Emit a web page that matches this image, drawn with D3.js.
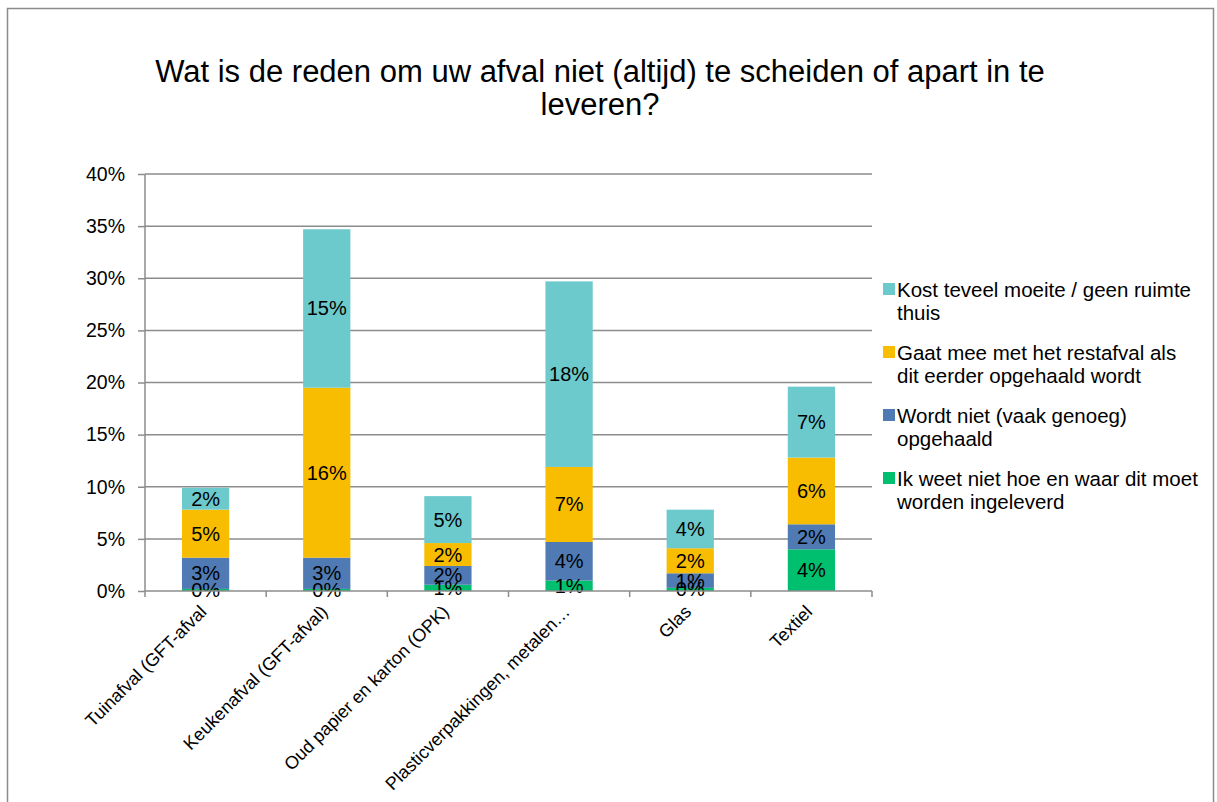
<!DOCTYPE html>
<html><head><meta charset="utf-8">
<script src="https://cdn.jsdelivr.net/npm/d3@7"></script>
<style>body{margin:0;background:#fff}svg{display:block;font-family:"Liberation Sans",Arial,sans-serif}</style>
</head><body><svg id="c" width="1217" height="802"></svg>
<script>
const categories = ["Tuinafval (GFT-afval","Keukenafval (GFT-afval)","Oud papier en karton (OPK)","Plasticverpakkingen, metalen…","Glas","Textiel"];
const seriesNames = ["Ik weet niet hoe en waar dit moet worden ingeleverd","Wordt niet (vaak genoeg) opgehaald","Gaat mee met het restafval als dit eerder opgehaald wordt","Kost teveel moeite / geen ruimte thuis"];
const ikWeetNiet = [0.002,0.002,0.006,0.010,0.003,0.040];
const wordtNiet  = [0.030,0.030,0.018,0.037,0.014,0.024];
const gaatMee    = [0.046,0.163,0.022,0.072,0.024,0.064];
const kostMoeite = [0.021,0.152,0.045,0.178,0.037,0.068];
const yTicks = [0,0.05,0.10,0.15,0.20,0.25,0.30,0.35,0.40];
const colors = ["#00bf6f","#4f7ab3","#f8bd00","#6cc9cc"];
const series = [ikWeetNiet,wordtNiet,gaatMee,kostMoeite];

const svg = d3.select("#c");
svg.append("rect").attr("x",7.5).attr("y",8.5).attr("width",1206).attr("height",820)
  .attr("fill","#fff").attr("stroke","#8c8c8c").attr("stroke-width",1.5);

svg.append("text").attr("x",600).attr("y",82).attr("text-anchor","middle").attr("font-size",31)
  .text("Wat is de reden om uw afval niet (altijd) te scheiden of apart in te");
svg.append("text").attr("x",600).attr("y",115).attr("text-anchor","middle").attr("font-size",31)
  .text("leveren?");

const L=145,R=872,T=174,B=591;
const x = d3.scaleBand().domain(categories).range([L,R]).paddingInner(0.61).paddingOuter(0.305);
const y = d3.scaleLinear().domain([0,0.40]).range([B,T]);

// gridlines
svg.append("g").selectAll("line").data(yTicks.slice(1)).join("line")
  .attr("x1",L).attr("x2",R).attr("y1",d=>y(d)).attr("y2",d=>y(d))
  .attr("stroke","#8c8c8c").attr("stroke-width",1.5);

// y axis
const ya = svg.append("g").attr("transform",`translate(${L},0)`)
  .call(d3.axisLeft(y).tickValues(yTicks).tickFormat(d3.format(".0%")).tickSize(7).tickPadding(13));
ya.selectAll("path,line").attr("stroke","#8c8c8c").attr("stroke-width",1.5);
ya.select("path").attr("d",`M0,${T}V${B}`);
ya.selectAll("text").attr("font-size",19.5).attr("fill","#000").attr("font-family","Liberation Sans, Arial, sans-serif");

// stacked bars
const stackData = categories.map((c,i)=>{const o={cat:c};series.forEach((s,j)=>o[j]=s[i]);return o;});
const stack = d3.stack().keys([0,1,2,3])(stackData);
const g = svg.append("g");
stack.forEach((layer,j)=>{
  g.selectAll(null).data(layer).join("rect")
    .attr("x",d=>x(d.data.cat)).attr("width",x.bandwidth())
    .attr("y",d=>y(d[1])).attr("height",d=>y(d[0])-y(d[1]))
    .attr("fill",colors[j]);
});
stack.forEach((layer,j)=>{
  g.selectAll(null).data(layer).join("text")
    .attr("x",d=>x(d.data.cat)+x.bandwidth()/2)
    .attr("y",d=>(y(d[0])+y(d[1]))/2+7)
    .attr("text-anchor","middle").attr("font-size",20).attr("fill","#000")
    .text(d=>d3.format(".0%")(d[1]-d[0]));
});

// x axis
const bounds = d3.range(categories.length+1).map(i=>L+i*(R-L)/categories.length);
svg.append("line").attr("x1",L).attr("x2",R).attr("y1",B).attr("y2",B).attr("stroke","#8c8c8c").attr("stroke-width",1.5);
svg.append("g").selectAll("line").data(bounds).join("line")
  .attr("x1",d=>d).attr("x2",d=>d).attr("y1",B).attr("y2",B+6).attr("stroke","#8c8c8c").attr("stroke-width",1.5);
svg.append("g").selectAll("text").data(categories).join("text")
  .attr("transform",d=>`translate(${x(d)+x.bandwidth()/2+2},${B+22}) rotate(-45)`)
  .attr("text-anchor","end").attr("font-size",18).attr("fill","#000").text(d=>d);

// legend
const legendLines = [["Kost teveel moeite / geen ruimte","thuis"],["Gaat mee met het restafval als","dit eerder opgehaald wordt"],["Wordt niet (vaak genoeg)","opgehaald"],["Ik weet niet hoe en waar dit moet","worden ingeleverd"]];
const legendColors = [colors[3],colors[2],colors[1],colors[0]];
const lg = svg.append("g");
legendLines.forEach((lines,i)=>{
  const y0 = 297 + i*63;
  lg.append("rect").attr("x",883).attr("y",y0-14).attr("width",12).attr("height",12).attr("fill",legendColors[i]);
  lines.forEach((t,k)=>lg.append("text").attr("x",897).attr("y",y0+k*23).attr("font-size",20.5).attr("fill","#000").text(t));
});
</script></body></html>
